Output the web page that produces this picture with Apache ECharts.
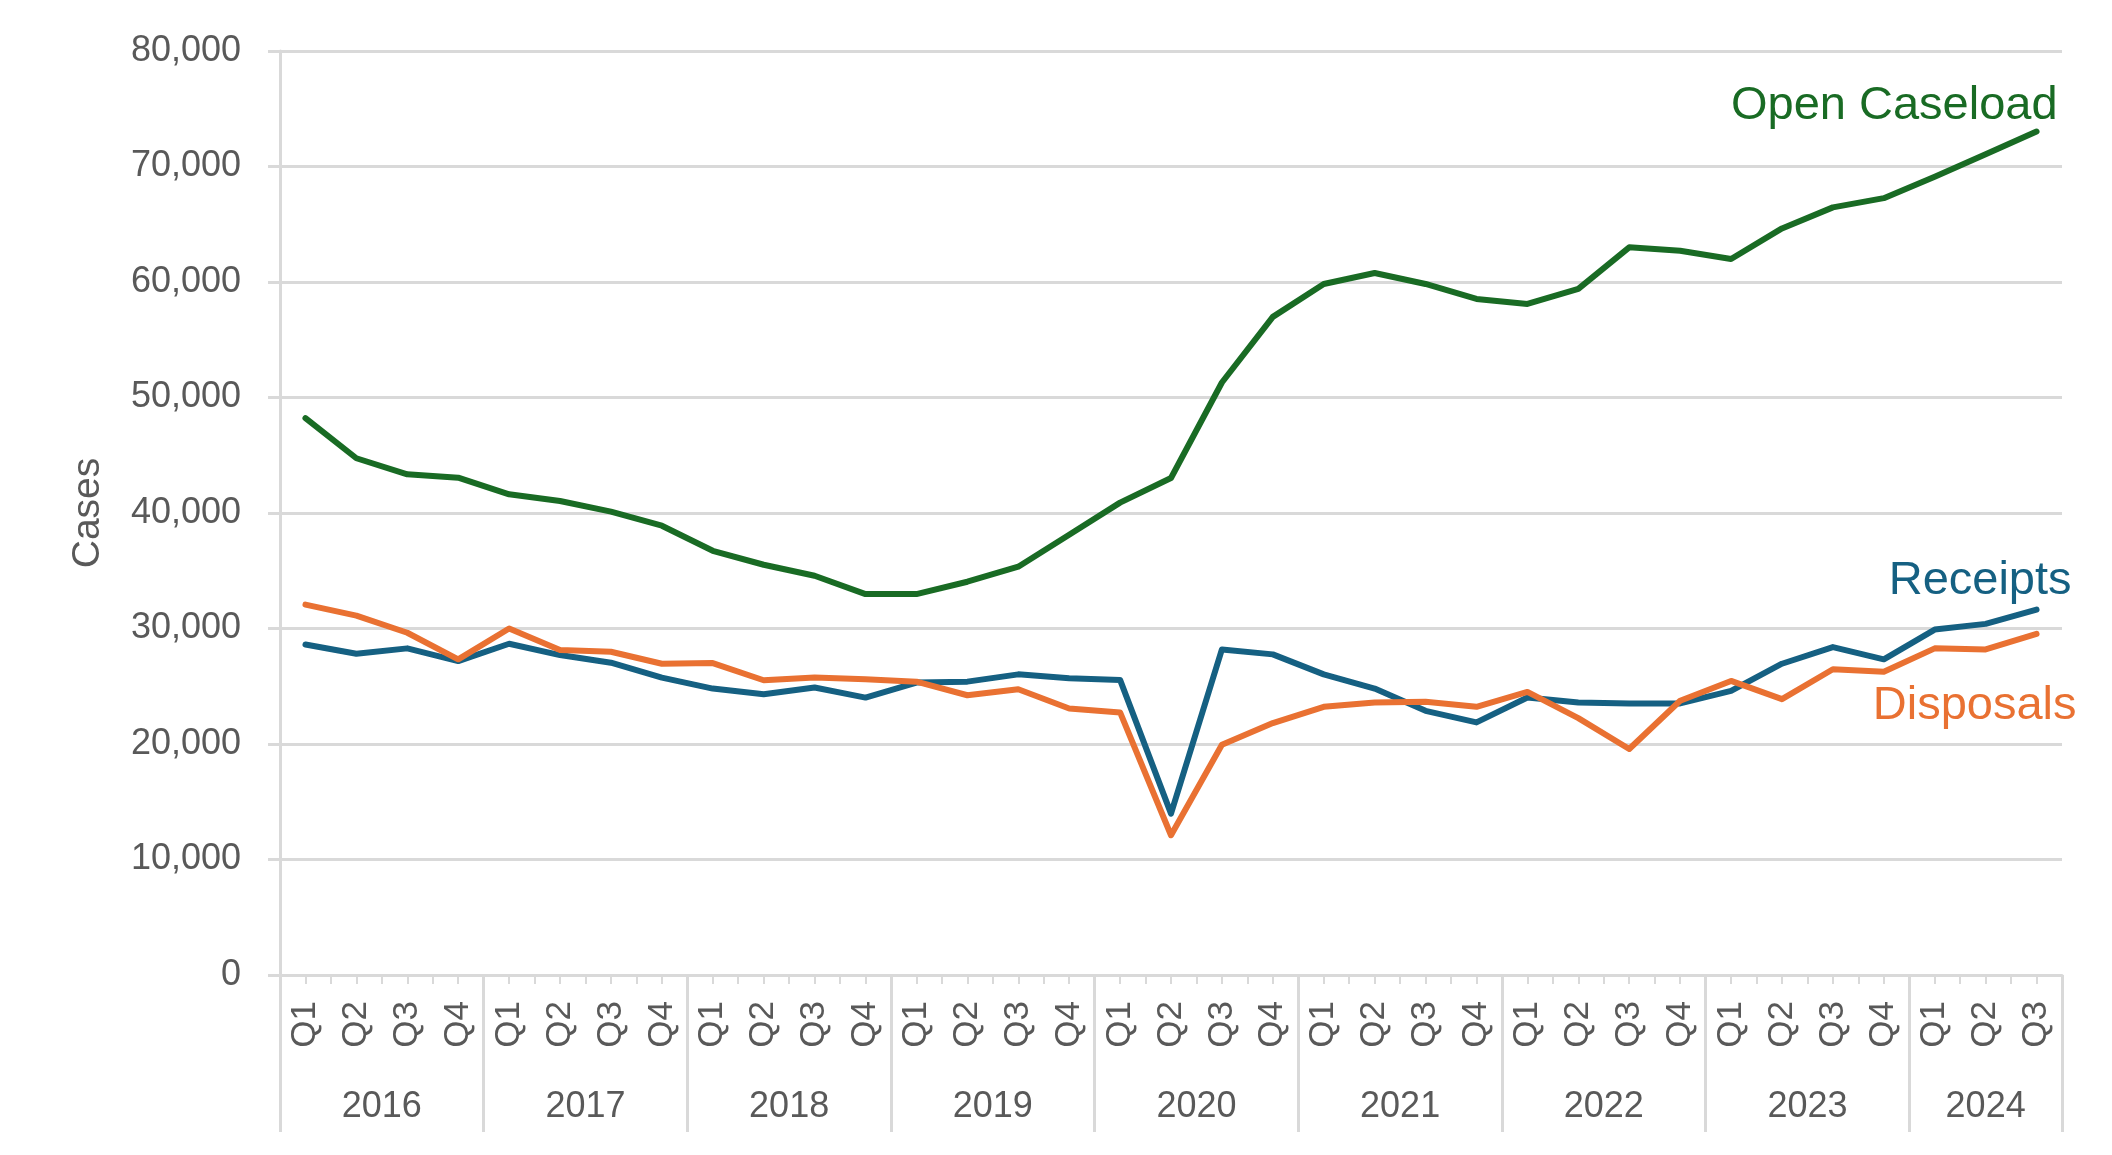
<!DOCTYPE html>
<html>
<head>
<meta charset="utf-8">
<script src="https://cdn.jsdelivr.net/npm/echarts@6/dist/echarts.min.js"></script>
<style>
html,body{margin:0;padding:0;background:#fff;}
#chart{width:2112px;height:1155px;}
</style>
</head>
<body>
<div id="chart"></div>
<script>
var quarters = ['Q1','Q2','Q3','Q4','Q1','Q2','Q3','Q4','Q1','Q2','Q3','Q4','Q1','Q2','Q3','Q4','Q1','Q2','Q3','Q4','Q1','Q2','Q3','Q4','Q1','Q2','Q3','Q4','Q1','Q2','Q3','Q4','Q1','Q2','Q3'];
var years = ['2016','2017','2018','2019','2020','2021','2022','2023','2024'];
var yearStarts = [0,4,8,12,16,20,24,28,32,35];
var yearCenters = [2,6,10,14,18,22,26,30,33.5];
var yTicks = [0,10000,20000,30000,40000,50000,60000,70000,80000];

var openCaseload = [48210,44740,43350,43060,41620,41040,40120,38900,36730,35520,34570,32980,32980,34050,35350,38120,40900,43030,51300,56980,59830,60780,59830,58530,58100,59400,63000,62710,61990,64640,66460,67260,69110,71070,73030];
var receipts = [28620,27820,28280,27180,28680,27700,27040,25750,24800,24310,24890,24020,25320,25400,26030,25690,25550,13970,28190,27760,26030,24800,22870,21870,24020,23590,23510,23510,24600,26950,28390,27330,29910,30400,31640];
var disposals = [32070,31120,29630,27330,30000,28130,27990,26950,27010,25520,25750,25600,25400,24220,24740,23070,22730,12100,19940,21810,23220,23590,23650,23220,24510,22240,19570,23740,25460,23880,26470,26260,28280,28190,29540];

var FONT = 'Liberation Sans';
var TXT = '#595959';
var GRID = '#d9d9d9';

var halfTicks = [];
for (var i = 0; i <= quarters.length * 2; i++) halfTicks.push(i / 2);

function lineSeries(name, data, color, offset) {
  return {
    name: name, type: 'line', data: data, xAxisIndex: 0, yAxisIndex: 0,
    symbol: 'none', smooth: false,
    lineStyle: { color: color, width: 6, cap: 'round', join: 'round' },
    itemStyle: { color: color },
    endLabel: {
      show: true, formatter: name, color: color, fontFamily: FONT, fontSize: 47,
      align: 'right', verticalAlign: 'middle', distance: 0, offset: offset
    },
    emphasis: { disabled: true }
  };
}

var chart = echarts.init(document.getElementById('chart'));
chart.setOption({
  backgroundColor: '#fff',
  animation: false,
  grid: { left: 280, right: 50, top: 51, bottom: 180, containLabel: false },
  xAxis: [
    {
      type: 'category', data: quarters, boundaryGap: true, position: 'bottom',
      axisLine: { show: true, lineStyle: { color: GRID, width: 3 } },
      axisTick: { show: false },
      axisLabel: { show: true, interval: 0, rotate: 90, margin: 26, color: TXT, fontFamily: FONT, fontSize: 35 },
      splitLine: { show: false }
    },
    {
      type: 'value', min: 0, max: quarters.length, position: 'bottom',
      axisLine: { show: false },
      axisTick: { show: true, customValues: halfTicks, length: 9, lineStyle: { color: GRID, width: 2 } },
      axisLabel: { show: false },
      splitLine: { show: false }
    },
    {
      type: 'value', min: 0, max: quarters.length, position: 'bottom',
      axisLine: { show: false },
      axisTick: { show: true, customValues: yearStarts, length: 157, lineStyle: { color: GRID, width: 3 } },
      axisLabel: {
        show: true, customValues: yearCenters, margin: 114, color: TXT, fontFamily: FONT, fontSize: 36,
        formatter: function (v) { var k = yearCenters.indexOf(v); return k >= 0 ? years[k] : ''; }
      },
      splitLine: { show: false }
    }
  ],
  yAxis: {
    type: 'value', min: yTicks[0], max: yTicks[yTicks.length - 1], interval: 10000,
    name: 'Cases', nameLocation: 'middle', nameGap: 172, nameRotate: 90,
    nameTextStyle: { color: TXT, fontFamily: FONT, fontSize: 39 },
    axisLine: { show: true, lineStyle: { color: GRID, width: 3 } },
    axisTick: { show: true, length: 12, lineStyle: { color: GRID, width: 3 } },
    axisLabel: {
      margin: 39, color: TXT, fontFamily: FONT, fontSize: 36,
      formatter: function (v) { return v.toLocaleString('en-US'); }
    },
    splitLine: { show: true, lineStyle: { color: GRID, width: 3 } }
  },
  series: [
    lineSeries('Receipts', receipts, '#156082', [35, -29]),
    lineSeries('Disposals', disposals, '#E97132', [40, 72]),
    lineSeries('Open Caseload', openCaseload, '#196B24', [21, -25])
  ]
});
</script>
</body>
</html>
